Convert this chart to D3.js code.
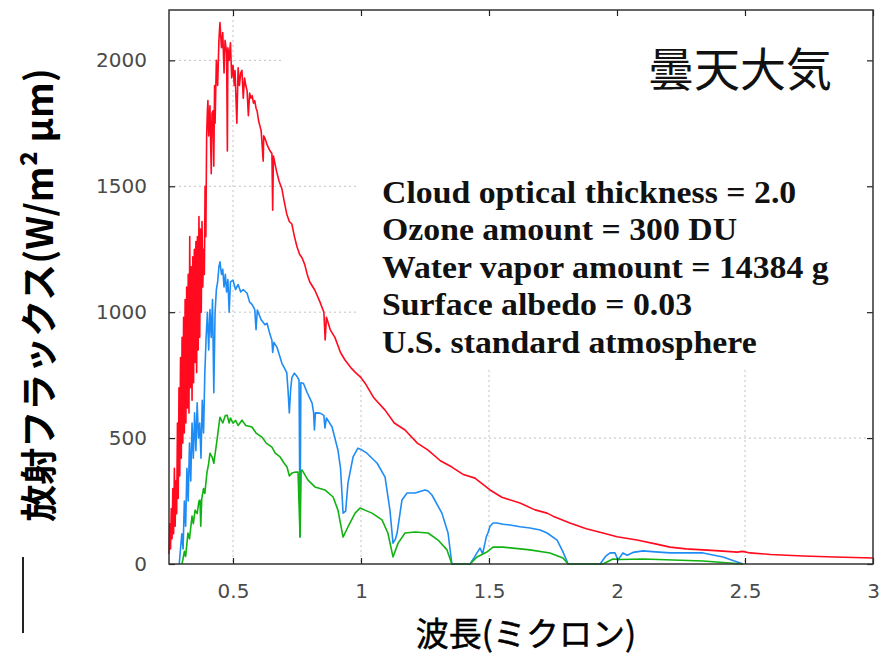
<!DOCTYPE html>
<html>
<head>
<meta charset="utf-8">
<title>曇天大気</title>
<script src="https://d3js.org/d3.v7.min.js"></script>
<style>
  body { margin: 0; background: #fff; }
</style>
</head>
<body>
<div id="chart"></div>
<script>

// wavelength (micron) / flux (W/m2 um)
const redX = [0.250,0.253,0.256,0.259,0.262,0.265,0.268,0.271,0.274,0.277,0.280,0.283,0.286,0.289,0.292,0.295,0.298,0.301,0.304,0.307,0.310,0.313,0.316,0.319,0.322,0.325,0.328,0.331,0.334,0.337,0.340,0.343,0.346,0.349,0.352,0.355,0.358,0.361,0.364,0.367,0.370,0.373,0.376,0.379,0.382,0.385,0.388,0.391,0.394,0.397,0.400,0.402,0.405,0.410,0.415,0.418,0.422,0.425,0.428,0.430,0.435,0.440,0.445,0.449,0.455,0.460,0.465,0.469,0.475,0.478,0.480,0.485,0.490,0.495,0.500,0.505,0.508,0.515,0.520,0.525,0.530,0.535,0.540,0.545,0.550,0.555,0.560,0.565,0.570,0.575,0.580,0.585,0.590,0.594,0.600,0.610,0.618,0.620,0.625,0.635,0.645,0.652,0.655,0.658,0.670,0.680,0.691,0.700,0.710,0.720,0.730,0.740,0.750,0.760,0.770,0.780,0.790,0.800,0.820,0.840,0.855,0.860,0.865,0.880,0.898,0.920,0.9375,0.960,0.977,1.000,1.016,1.050,1.094,1.130,1.172,1.220,1.262,1.310,1.355,1.400,1.445,1.504,1.550,1.621,1.680,1.727,1.750,1.816,1.880,1.945,2.000,2.078,2.150,2.207,2.270,2.336,2.400,2.470,2.490,2.520,2.600,2.727,2.850,3.000];
const redY = [40,160,60,220,100,300,120,380,150,330,200,560,260,700,350,820,420,900,480,980,520,1050,560,1100,620,1150,600,1300,700,1180,650,1220,720,1250,800,1280,760,1300,850,1380,900,1330,1000,1360,1100,1250,1150,1500,1300,1700,1800,1840,1700,1820,1550,1790,1800,1580,1900,1750,2000,1900,2080,2150,2050,2110,1950,2080,2030,1640,2050,2000,2070,1930,1980,1900,1960,1750,1970,1900,1950,1960,1850,1930,1900,1880,1780,1870,1850,1860,1830,1840,1810,1800,1760,1720,1600,1700,1690,1660,1640,1630,1405,1620,1560,1520,1490,1440,1390,1360,1350,1300,1260,1230,1215,1190,1150,1120,1087,1040,1000,890,980,930,900,840,810,780,762,740,718,660,611,560,532,480,452,410,385,355,341,294,265,242,215,202,190,163,140,123,108,95,80,67,60,56,52,47,50,44,38,32,28,24];

const blueX = [0.290,0.300,0.305,0.310,0.315,0.320,0.325,0.330,0.335,0.340,0.345,0.350,0.355,0.360,0.365,0.370,0.375,0.380,0.385,0.390,0.395,0.400,0.405,0.410,0.415,0.420,0.425,0.430,0.435,0.440,0.445,0.449,0.455,0.460,0.465,0.470,0.475,0.480,0.485,0.490,0.500,0.510,0.520,0.530,0.540,0.555,0.565,0.575,0.585,0.590,0.595,0.610,0.625,0.633,0.645,0.652,0.655,0.660,0.672,0.684,0.691,0.700,0.710,0.715,0.720,0.725,0.730,0.740,0.750,0.758,0.762,0.765,0.775,0.790,0.809,0.815,0.818,0.822,0.840,0.855,0.859,0.865,0.887,0.910,0.920,0.930,0.940,0.949,0.969,0.988,1.000,1.023,1.0625,1.094,1.113,1.125,1.135,1.141,1.160,1.180,1.211,1.250,1.262,1.277,1.316,1.340,1.355,1.426,1.445,1.453,1.465,1.475,1.490,1.496,1.504,1.516,1.531,1.555,1.582,1.621,1.660,1.700,1.727,1.766,1.789,1.809,1.934,1.955,1.973,1.992,2.004,2.023,2.040,2.0625,2.102,2.150,2.207,2.336,2.414,2.492];
const blueY = [0,120,60,250,150,380,250,480,330,560,420,600,450,640,500,560,420,650,520,760,900,1000,850,1010,900,1050,680,1000,1090,1120,1180,1200,1150,1170,1100,1150,1080,1130,1000,1120,1127,1090,1110,1080,1090,1075,1040,1030,1010,930,1008,970,950,956,910,889,840,880,860,821,797,780,760,690,600,690,740,758,745,730,107,720,718,680,639,600,532,600,599,590,540,580,544,452,380,202,210,321,425,460,455,440,401,345,214,83,100,123,254,282,282,294,290,274,202,123,0,0,30,44,63,40,110,123,150,163,163,158,155,148,143,135,123,95,48,0,0,30,44,44,16,44,35,46,52,48,44,44,28,0];

const greenX = [0.301,0.310,0.315,0.324,0.330,0.340,0.345,0.352,0.360,0.367,0.371,0.374,0.378,0.385,0.390,0.398,0.405,0.410,0.420,0.425,0.4375,0.449,0.460,0.470,0.477,0.485,0.490,0.500,0.510,0.520,0.535,0.550,0.574,0.590,0.613,0.630,0.652,0.665,0.684,0.700,0.711,0.720,0.730,0.745,0.754,0.762,0.766,0.770,0.793,0.820,0.859,0.891,0.910,0.930,0.949,0.977,0.996,1.043,1.082,1.105,1.125,1.145,1.172,1.211,1.262,1.301,1.336,1.355,1.426,1.453,1.492,1.516,1.555,1.660,1.738,1.789,1.809,1.945,1.984,2.010,2.102,2.336,2.492];
const greenY = [0,50,30,123,100,190,160,214,200,250,254,150,260,300,280,361,400,440,420,400,492,583,560,590,591,560,580,559,570,550,571,550,544,520,504,480,464,440,425,400,385,350,361,365,365,107,370,373,333,306,294,266,214,107,147,202,222,202,175,123,28,83,123,127,123,95,56,0,0,28,48,67,67,56,44,24,0,0,20,18,20,12,0];

const xTicks = [0.5, 1, 1.5, 2, 2.5, 3];
const xTickLabels = ["0.5", "1", "1.5", "2", "2.5", "3"];
const yTicks = [0, 500, 1000, 1500, 2000];
const yTickLabels = ["0", "500", "1000", "1500", "2000"];

const infoLines = [
  "Cloud optical thickness = 2.0",
  "Ozone amount = 300 DU",
  "Water vapor amount = 14384 g",
  "Surface albedo = 0.03",
  "U.S. standard atmosphere"
];

let W = 881, H = 659;
let margin = {top: 10, right: 8, bottom: 95, left: 169};
let w = W - margin.left - margin.right;
let h = H - margin.top - margin.bottom;

let svg = d3.select("#chart").append("svg")
    .attr("width", W)
    .attr("height", H)
    .style("background", "#fff");

let g = svg.append("g")
    .attr("transform", "translate(" + margin.left + "," + margin.top + ")");

let x = d3.scaleLinear().domain([0.25, 3]).range([0, w]);
let y = d3.scaleLinear().domain([0, 2200]).range([h, 0]);

// dotted grid (the x=2 line is not visible in the original)
let grid = g.append("g")
    .attr("stroke", "#c2c2c2")
    .attr("stroke-dasharray", "2,3")
    .attr("stroke-width", 1);
grid.selectAll("line.gx").data(xTicks.filter(d => d !== 2 && d !== 3)).enter().append("line")
    .attr("x1", d => x(d)).attr("x2", d => x(d))
    .attr("y1", 0).attr("y2", h);
grid.selectAll("line.gy").data(yTicks.slice(1)).enter().append("line")
    .attr("x1", 0).attr("x2", w)
    .attr("y1", d => y(d)).attr("y2", d => y(d));

// the pasted text boxes hide part of the grid
g.append("rect")
    .attr("x", x(0.70)).attr("y", y(2195))
    .attr("width", x(2.99) - x(0.70)).attr("height", y(1560) - y(2195))
    .attr("fill", "#fff");
g.append("rect")
    .attr("x", x(0.99)).attr("y", y(1560))
    .attr("width", x(2.99) - x(0.99)).attr("height", y(770) - y(1560))
    .attr("fill", "#fff");

// spectra
let line = d3.line().x(d => x(d[0])).y(d => y(d[1]));
let series = [
  {xs: redX, ys: redY, color: "#ff0a1e"},
  {xs: blueX, ys: blueY, color: "#1f8cf5"},
  {xs: greenX, ys: greenY, color: "#12b212"}
];
series.forEach(function(s) {
    g.append("path")
        .datum(s.xs.map((v, i) => [v, s.ys[i]]))
        .attr("fill", "none")
        .attr("stroke", s.color)
        .attr("stroke-width", 1.6)
        .attr("stroke-linejoin", "round")
        .attr("d", line);
});

// axes, ticks pointing inwards
let xAxis = d3.axisBottom(x).tickValues(xTicks)
    .tickFormat((d, i) => xTickLabels[i]).tickSize(-6).tickPadding(20);
let yAxis = d3.axisLeft(y).tickValues(yTicks)
    .tickFormat((d, i) => yTickLabels[i]).tickSize(-6).tickPadding(22);

let gx = g.append("g").attr("transform", "translate(0," + h + ")").call(xAxis);
let gy = g.append("g").call(yAxis);
g.append("g").call(d3.axisTop(x).tickValues(xTicks).tickFormat("").tickSize(-6));
g.append("g").attr("transform", "translate(" + w + ",0)")
    .call(d3.axisRight(y).tickValues(yTicks).tickFormat("").tickSize(-6));

g.selectAll(".domain").remove();
g.selectAll(".tick line").attr("stroke", "#222").attr("stroke-width", 1.2);
[gx, gy].forEach(a => a.selectAll("text")
    .attr("font-family", "DejaVu Sans")
    .attr("font-size", "20px")
    .attr("fill", "#4a4a4a"));

g.append("rect")
    .attr("width", w).attr("height", h)
    .attr("fill", "none")
    .attr("stroke", "#333")
    .attr("stroke-width", 1.5);

// title and parameters
svg.append("text")
    .attr("x", 648).attr("y", 86)
    .attr("font-family", "Noto Sans CJK JP")
    .attr("font-size", "46px")
    .attr("fill", "#111")
    .text("曇天大気");

let info = svg.append("text")
    .attr("transform", "translate(382,203) scale(1.09,1)")
    .attr("font-family", "Liberation Serif")
    .attr("font-weight", "bold")
    .attr("font-size", "31px")
    .attr("fill", "#111");
info.selectAll("tspan").data(infoLines).enter().append("tspan")
    .attr("x", 0)
    .attr("y", (d, i) => i * 37.5)
    .text(d => d);

// axis titles
svg.append("text")
    .attr("x", 526).attr("y", 646)
    .attr("text-anchor", "middle")
    .attr("font-family", "Noto Sans CJK JP")
    .attr("font-size", "33px")
    .attr("fill", "#000")
    .attr("stroke", "#000").attr("stroke-width", 0.5)
    .text("波長(ミクロン)");

svg.append("text")
    .attr("transform", "translate(53,295) rotate(-90)")
    .attr("text-anchor", "middle")
    .attr("font-family", "Noto Sans CJK JP")
    .attr("font-weight", "bold")
    .attr("font-size", "37px")
    .attr("fill", "#000")
    .text("放射フラックス(W/m² μm)");

svg.append("line")
    .attr("x1", 23).attr("x2", 23)
    .attr("y1", 557).attr("y2", 633)
    .attr("stroke", "#222").attr("stroke-width", 2);

</script>
</body>
</html>
